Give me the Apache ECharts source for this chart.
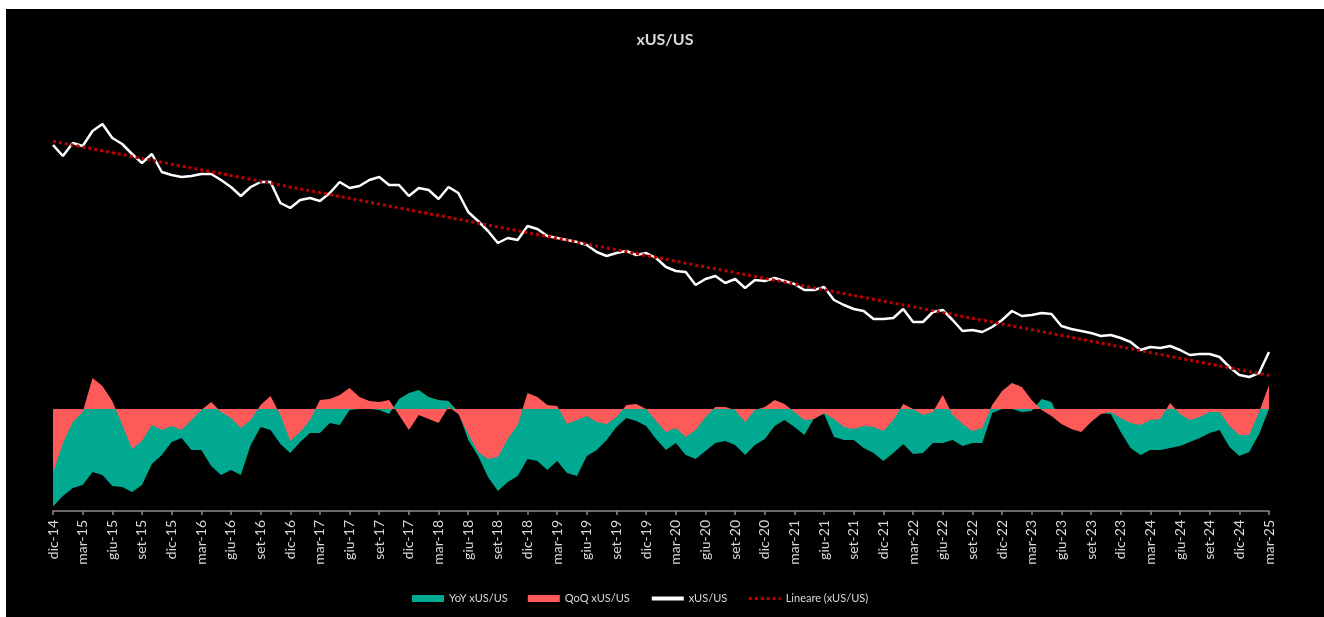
<!DOCTYPE html>
<html>
<head>
<meta charset="utf-8">
<script src="https://cdn.jsdelivr.net/npm/echarts@6/dist/echarts.min.js"></script>
<style>
html,body{margin:0;padding:0;background:#fff;width:1324px;height:617px;overflow:hidden}
#chart{position:absolute;left:6px;top:9px;width:1318px;height:608px;background:#000}
</style>
</head>
<body>
<div id="chart"></div>
<script>
const categories = [
'dic-14',
'gen-15','feb-15','mar-15','apr-15','mag-15','giu-15','lug-15','ago-15','set-15','ott-15','nov-15','dic-15',
'gen-16','feb-16','mar-16','apr-16','mag-16','giu-16','lug-16','ago-16','set-16','ott-16','nov-16','dic-16',
'gen-17','feb-17','mar-17','apr-17','mag-17','giu-17','lug-17','ago-17','set-17','ott-17','nov-17','dic-17',
'gen-18','feb-18','mar-18','apr-18','mag-18','giu-18','lug-18','ago-18','set-18','ott-18','nov-18','dic-18',
'gen-19','feb-19','mar-19','apr-19','mag-19','giu-19','lug-19','ago-19','set-19','ott-19','nov-19','dic-19',
'gen-20','feb-20','mar-20','apr-20','mag-20','giu-20','lug-20','ago-20','set-20','ott-20','nov-20','dic-20',
'gen-21','feb-21','mar-21','apr-21','mag-21','giu-21','lug-21','ago-21','set-21','ott-21','nov-21','dic-21',
'gen-22','feb-22','mar-22','apr-22','mag-22','giu-22','lug-22','ago-22','set-22','ott-22','nov-22','dic-22',
'gen-23','feb-23','mar-23','apr-23','mag-23','giu-23','lug-23','ago-23','set-23','ott-23','nov-23','dic-23',
'gen-24','feb-24','mar-24','apr-24','mag-24','giu-24','lug-24','ago-24','set-24','ott-24','nov-24','dic-24',
'gen-25','feb-25','mar-25'
];

// xUS/US relative index
const xusus = [
100,97.25,100.5,99.75,103.5,105.25,101.75,100.25,97.75,95.5,97.75,93.25,
92.5,92,92.25,92.75,92.75,91.25,89.5,87.25,89.5,90.75,90.75,85.5,
84.25,86.25,86.75,86,88,90.75,89.25,89.75,91.25,92,90,90,
87.25,89.25,88.75,86.5,89.5,88,83.25,81,78.5,75.5,76.75,76.25,
79.75,79,77.25,76.75,76.25,75.75,75,73.25,72.25,73,73.5,72.5,
73,71.75,69.5,68.5,68.25,65,66.5,67.25,65.5,66.5,64.25,66.25,
66,66.75,66,65.25,63.75,63.75,64.5,61.25,60,59,58.5,56.5,
56.5,56.75,59,55.75,55.75,58.25,58.75,56.25,53.5,53.75,53.25,54.5,
56.25,58.5,57.25,57.5,58,57.75,54.75,54,53.5,53,52.25,52.5,
51.75,50.75,48.75,49.5,49.25,49.75,48.75,47.5,47.75,47.75,47,44.5,
42.5,42,43,48.25
];

// YoY change, %
const yoy = [
-24.4,-21.75,-19.75,-19,-15.75,-16.5,-19.25,-19.5,-20.75,-19,-13.75,-11.5,
-8.25,-7.25,-10.25,-10.25,-14.25,-16.5,-15.25,-16.5,-9,-4.5,-5.25,-8.75,
-11,-8.25,-6,-6,-3.5,-4,-0.25,0,0,-0.25,-1.25,2.5,
4,4.75,3,2.25,2,-0.75,-7.75,-11.75,-17,-20.5,-18.25,-16.75,
-12.5,-13,-15.25,-13,-16,-16.75,-11.75,-10.25,-7.75,-4.5,-2.25,-3,
-4.25,-7.5,-10.25,-8.5,-11.5,-12.5,-10.5,-8.5,-8,-9,-11.5,-9,
-7.5,-4.25,-2.75,-4.5,-6.5,-2.25,-1.25,-7,-7.75,-7.75,-9.75,-11,
-13,-11,-8.75,-11.25,-11,-8.5,-8.5,-7.75,-9.25,-8.5,-8.5,-1,
0,0,-0.75,-0.5,2.5,1.75,-3.5,-4.5,-3.75,-2.25,-1,-1.25,
-5.75,-9.75,-11.5,-10.25,-10.25,-9.75,-9.25,-8.25,-7.25,-6,-5.25,-9.5,
-11.75,-10.75,-6.25,0
];

// QoQ change, %
const qoq = [
-16,-8.5,-3.25,-0.75,7.75,5.75,2,-4,-10,-8,-4,-5.25,
-4.25,-5.25,-2.75,-0.25,1.75,-0.75,-2.25,-4.75,-2.75,1,3.25,-1.5,
-8,-5.75,-2.75,2.25,2.5,3.5,5.25,3,2,1.75,2.25,-1.5,
-5.25,-1.5,-2.5,-3.5,0.5,-1.25,-6.25,-10.75,-12.5,-12,-7.5,-4,
4,3,1,0.75,-3.75,-2.75,-1.75,-3.25,-3.75,-2,1,1.25,
0,-3,-5.75,-4.75,-7,-5.25,-2,0.5,0.5,-0.25,-3.25,-0.25,
0.5,2.25,1.25,-0.75,-2.75,-2.5,-1,-2.5,-4.5,-5,-4.25,-4.5,
-5.5,-2.75,1.25,0,-1.5,-0.75,3.5,-1.5,-3.75,-5.5,-4.75,1,
4.5,6.5,5.5,2.25,-0.25,-1.75,-3.75,-5,-5.75,-3.25,-1.25,-0.75,
-2.25,-3.5,-4,-2.75,-2.5,1.5,-1.25,-2.75,-2,-0.75,-0.75,-4.25,
-6.5,-6.5,-0.75,6
];

// Linear trend (start, end)
const trend = [100.93, 42.4];

const hiddenSymbol = {color: 'rgba(0,0,0,0)', borderColor: 'rgba(0,0,0,0)', borderWidth: 0, opacity: 0};

const chart = echarts.init(document.getElementById('chart'));
chart.setOption({
  backgroundColor: '#000',
  animation: false,
  title: {
    text: 'xUS/US', left: 'center', top: 18,
    textStyle: {color: '#d9d9d9', fontFamily: 'Lato', fontSize: 16, fontWeight: 'bold'}
  },
  legend: {
    left: 401, top: 579, itemWidth: 32, itemHeight: 7, itemGap: 20,
    textStyle: {color: '#d9d9d9', fontFamily: 'Lato', fontSize: 11},
    data: [
      {name: 'YoY xUS/US', icon: 'rect'},
      {name: 'QoQ xUS/US', icon: 'rect'},
      {name: 'xUS/US', itemStyle: hiddenSymbol, lineStyle: {width: 4, color: '#ffffff'}},
      {name: 'Lineare (xUS/US)', itemStyle: hiddenSymbol, lineStyle: {width: 3, color: '#c00000', type: [3, 3]}}
    ]
  },
  grid: {left: 47, right: 55, top: 101, bottom: 106},
  xAxis: {
    type: 'category', data: categories, boundaryGap: false,
    axisLine: {onZero: false, lineStyle: {color: '#8c8c8c', width: 1.5}},
    axisTick: {interval: 2, length: 4, lineStyle: {color: '#8c8c8c', width: 1.5}},
    axisLabel: {interval: 2, rotate: 90, color: '#d9d9d9', fontFamily: 'Lato', fontSize: 14, margin: 9},
    splitLine: {show: false}
  },
  yAxis: [
    {type: 'value', min: 8.5, max: 108.75, show: false},
    {type: 'value', min: -25.5, max: 74.75, show: false}
  ],
  series: [
    {name: 'YoY xUS/US', type: 'line', yAxisIndex: 1, data: yoy, symbol: 'none',
     lineStyle: {width: 0}, itemStyle: {color: '#00a98f'}, areaStyle: {color: '#00a98f', opacity: 1}, z: 1},
    {name: 'QoQ xUS/US', type: 'line', yAxisIndex: 1, data: qoq, symbol: 'none',
     lineStyle: {width: 0}, itemStyle: {color: '#ff5a5a'}, areaStyle: {color: '#ff5a5a', opacity: 1}, z: 2},
    {name: 'xUS/US', type: 'line', yAxisIndex: 0, data: xusus, symbol: 'none',
     lineStyle: {color: '#ffffff', width: 2.5}, itemStyle: {color: '#ffffff'}, z: 3},
    {name: 'Lineare (xUS/US)', type: 'line', yAxisIndex: 0, symbol: 'none',
     data: [[categories[0], trend[0]], [categories[categories.length - 1], trend[1]]],
     lineStyle: {color: '#c00000', width: 3, type: [3, 3]}, itemStyle: {color: '#c00000'}, z: 4}
  ]
});
</script>
</body>
</html>
